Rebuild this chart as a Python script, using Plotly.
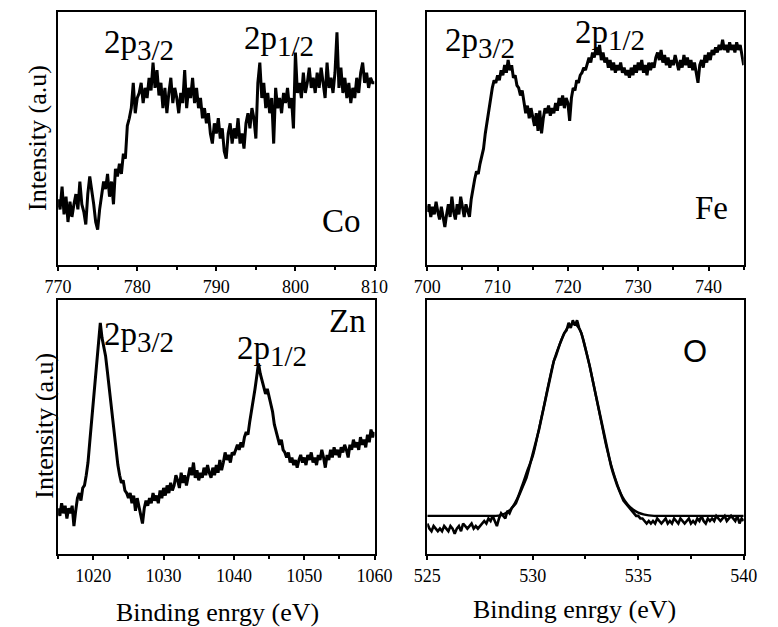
import numpy as np
import plotly.graph_objects as go

# ---------------- data (intensity in arbitrary units, 0-100 of frame) ----------------
co_start, co_step = 770.0, 0.25
co_int = [26, 22, 31, 20, 27, 17, 25, 19, 24, 28, 22, 33, 24, 21, 16, 28, 35, 30, 24, 17,
          14, 22, 27, 33, 30, 36, 27, 33, 24, 38, 35, 40, 36, 44, 42, 55, 58, 62, 72, 60,
          66, 68, 72, 64, 70, 66, 74, 69, 80, 70, 77, 67, 72, 62, 70, 60, 68, 74, 64, 70,
          66, 60, 68, 64, 77, 62, 70, 66, 74, 64, 70, 62, 66, 58, 62, 56, 60, 52, 48, 56,
          52, 58, 50, 54, 45, 42, 52, 56, 48, 54, 50, 58, 48, 52, 46, 56, 60, 54, 62, 58,
          50, 72, 80, 66, 72, 62, 68, 60, 66, 48, 70, 62, 66, 60, 68, 64, 70, 62, 66, 54,
          84, 68, 72, 66, 76, 68, 72, 78, 70, 74, 68, 76, 70, 78, 72, 66, 80, 70, 74, 68,
          76, 92, 70, 78, 68, 74, 66, 72, 64, 70, 66, 74, 68, 76, 80, 72, 76, 70, 74, 72, 72]

fe_start, fe_step = 700.0, 0.25
fe_int = [21, 24, 19, 23, 20, 25, 21, 18, 23, 19, 15, 20, 24, 19, 27, 21, 18, 24, 20, 27,
          22, 19, 24, 21, 19, 26, 31, 34, 37, 36, 40, 43, 46, 52, 57, 62, 66, 70, 73, 72,
          75, 73, 77, 75, 79, 76, 81, 77, 79, 74, 75, 71, 70, 67, 69, 64, 60, 63, 58, 62,
          59, 55, 60, 53, 61, 52, 58, 62, 60, 63, 59, 62, 60, 64, 61, 66, 63, 67, 62, 66,
          64, 57, 66, 70, 69, 73, 72, 75, 76, 78, 77, 80, 82, 80, 84, 82, 86, 83, 87, 81,
          84, 80, 82, 78, 81, 77, 80, 76, 79, 77, 80, 76, 78, 75, 77, 74, 78, 75, 79, 76,
          80, 77, 81, 76, 79, 75, 80, 77, 80, 78, 82, 84, 81, 85, 80, 83, 79, 82, 78, 81,
          79, 83, 80, 77, 81, 78, 83, 79, 82, 78, 81, 77, 80, 76, 72, 79, 81, 78, 83, 80,
          84, 81, 85, 83, 86, 84, 87, 85, 89, 85, 87, 84, 88, 85, 87, 84, 88, 85, 87, 83, 79]

zn_start, zn_step = 1015.0, 0.25
zn_int = [18, 15, 20, 16, 19, 14, 18, 16, 19, 11, 17, 22, 24, 21, 26, 27, 31, 36, 44, 52,
          60, 70, 78, 86, 91, 85, 82, 78, 72, 66, 59, 52, 46, 40, 35, 31, 28, 29, 25, 24,
          22, 24, 20, 23, 17, 22, 19, 16, 12, 18, 21, 19, 22, 20, 24, 21, 23, 20, 25, 22,
          26, 23, 27, 24, 28, 25, 27, 31, 29, 26, 32, 28, 31, 27, 30, 34, 31, 36, 30, 33,
          29, 32, 30, 34, 31, 35, 32, 30, 34, 31, 35, 32, 37, 33, 36, 40, 37, 39, 36, 40,
          39, 41, 43, 41, 44, 42, 46, 48, 47, 52, 56, 61, 65, 70, 75, 71, 68, 66, 63, 65,
          62, 58, 56, 51, 48, 46, 43, 45, 41, 40, 38, 40, 36, 38, 35, 37, 34, 37, 39, 36,
          38, 35, 39, 37, 40, 36, 38, 35, 39, 37, 41, 38, 34, 39, 37, 41, 38, 42, 39, 41,
          38, 42, 40, 43, 41, 38, 43, 41, 45, 42, 44, 41, 46, 43, 45, 42, 47, 44, 49, 46, 48]

o_start, o_step = 525.0, 0.1
o_int = [12, 10, 9, 11, 10, 9, 10, 9, 11, 10, 9, 11, 10, 8, 10, 11, 9, 12, 11, 10,
         11, 12, 10, 11, 10, 11, 12, 13, 12, 14, 13, 15, 13, 11, 14, 16, 15, 14, 17, 16,
         18, 19, 20, 22, 24, 26, 28, 30, 33, 36, 39, 42, 46, 49, 53, 57, 61, 65, 69, 73,
         76, 78, 81, 83, 85, 87, 88, 91, 89, 92, 90, 92, 89, 87, 84, 81, 78, 74, 70, 66,
         62, 58, 54, 50, 46, 42, 38, 35, 32, 29, 27, 25, 23, 21, 20, 19, 18, 17, 16, 15,
         15, 14, 14, 13, 12, 13, 12, 13, 12, 14, 13, 12, 13, 14, 12, 13, 12, 14, 13, 12,
         14, 13, 12, 13, 14, 12, 13, 12, 14, 13, 15, 13, 12, 14, 13, 14, 13, 15, 14, 13,
         14, 15, 13, 14, 15, 14, 13, 15, 12, 14, 13]

o_fit_start, o_fit_step = 525.0, 0.25
o_fit = [15, 15, 15, 15, 15, 15, 15, 15, 15, 15, 15, 15, 15, 15, 15.3, 16.2, 18, 21.5, 27, 33,
         38.5, 47.5, 57, 67, 76, 82, 87, 90, 90.5, 88, 81, 72, 62, 52, 42, 34, 27.5, 22.5, 19.5, 17.5,
         16.3, 15.6, 15.2, 15, 15, 15, 15, 15, 15, 15, 15, 15, 15, 15, 15, 15, 15, 15, 15, 15, 15]

def grid(start, step, vals):
    return start + step * np.arange(len(vals))

panels = [
    dict(rng=[770, 810], dt=10, mdt=5),
    dict(rng=[700, 745], dt=10, mdt=5),
    dict(rng=[1015, 1060], dt=10, mdt=5),
    dict(rng=[525, 540], dt=5, mdt=2.5),
]

fig = go.Figure()
line = dict(color="black", width=3)
fig.add_trace(go.Scatter(x=grid(co_start, co_step, co_int), y=co_int, mode="lines",
                         line=line, xaxis="x", yaxis="y"))
fig.add_trace(go.Scatter(x=grid(fe_start, fe_step, fe_int), y=fe_int, mode="lines",
                         line=line, xaxis="x2", yaxis="y2"))
fig.add_trace(go.Scatter(x=grid(zn_start, zn_step, zn_int), y=zn_int, mode="lines",
                         line=line, xaxis="x3", yaxis="y3"))
fig.add_trace(go.Scatter(x=grid(o_start, o_step, o_int), y=o_int, mode="lines",
                         line=dict(color="black", width=2.6), xaxis="x4", yaxis="y4"))
fig.add_trace(go.Scatter(x=grid(o_fit_start, o_fit_step, o_fit), y=o_fit, mode="lines",
                         line=dict(color="black", width=2.4, shape="spline"),
                         xaxis="x4", yaxis="y4"))

W, H = 778, 627
xdom = [[46 / W, 376 / W], [431 / W, 761 / W]]
ydom = [[1 - 265 / H, 1 - 12 / H], [1 - 554 / H, 1 - 300 / H]]

serif = "Liberation Serif"
layout = dict(
    width=W, height=H, margin=dict(l=0, r=0, t=0, b=0),
    paper_bgcolor="white", plot_bgcolor="white", showlegend=False,
)
for i, p in enumerate(panels):
    sfx = "" if i == 0 else str(i + 1)
    col = i % 2
    row = i // 2
    layout["xaxis" + sfx] = dict(
        domain=xdom[col], range=p["rng"], anchor="y" + sfx, dtick=p["dt"], tick0=0,
        showline=True, mirror=True, linecolor="black", linewidth=2, showgrid=False,
        zeroline=False, ticks="outside", ticklen=4, tickwidth=1.5, tickcolor="black",
        minor=dict(dtick=p["mdt"], tick0=0, ticks="outside", ticklen=3, tickwidth=1.5,
                   tickcolor="black"),
        tickfont=dict(family=serif, size=18, color="black"), fixedrange=True,
    )
    layout["yaxis" + sfx] = dict(
        domain=ydom[row], range=[0, 100], anchor="x" + sfx,
        showline=True, mirror=True, linecolor="black", linewidth=2, showgrid=False,
        zeroline=False, showticklabels=False, ticks="", fixedrange=True,
    )
fig.update_layout(**layout)

def lbl(a, b):
    return "2p<sub><span style='font-size:29px'>%s/%s</span></sub>" % (a, b)

ann_font = dict(family=serif, size=33, color="black")
elem_font = dict(family=serif, size=33, color="black")
annotations = [
    dict(text=lbl(3, 2), x=775.6, y=87, xref="x", yref="y", xanchor="left", yanchor="middle", font=ann_font),
    dict(text=lbl(1, 2), x=793.2, y=88.5, xref="x", yref="y", xanchor="left", yanchor="middle", font=ann_font),
    dict(text="Co", x=805.8, y=17.4, xref="x", yref="y", xanchor="center", yanchor="middle", font=elem_font),
    dict(text=lbl(3, 2), x=702.2, y=87.7, xref="x2", yref="y2", xanchor="left", yanchor="middle", font=ann_font),
    dict(text=lbl(1, 2), x=720.7, y=90.9, xref="x2", yref="y2", xanchor="left", yanchor="middle", font=ann_font),
    dict(text="Fe", x=740.4, y=22.5, xref="x2", yref="y2", xanchor="center", yanchor="middle", font=elem_font),
    dict(text=lbl(3, 2), x=1021.3, y=85.4, xref="x3", yref="y3", xanchor="left", yanchor="middle", font=ann_font),
    dict(text=lbl(1, 2), x=1040.1, y=79.9, xref="x3", yref="y3", xanchor="left", yanchor="middle", font=ann_font),
    dict(text="Zn", x=1056.2, y=91.7, xref="x3", yref="y3", xanchor="center", yanchor="middle", font=elem_font),
    dict(text="O", x=537.7, y=79.9, xref="x4", yref="y4", xanchor="center", yanchor="middle",
         font=dict(family="Liberation Sans", size=31, color="black")),
]
title_font = dict(family=serif, size=26, color="black")
annotations += [
    dict(text="Intensity (a.u)", x=24 / W, y=1 - 138 / H, xref="paper", yref="paper", textangle=-90,
         xanchor="center", yanchor="middle", font=title_font),
    dict(text="Intensity (a.u)", x=31 / W, y=1 - 426 / H, xref="paper", yref="paper", textangle=-90,
         xanchor="center", yanchor="middle", font=title_font),
    dict(text="Binding enrgy (eV)", x=212 / W, y=1 - 612 / H, xref="paper", yref="paper",
         xanchor="center", yanchor="middle", font=title_font),
    dict(text="Binding enrgy (eV)", x=585 / W, y=1 - 609 / H, xref="paper", yref="paper",
         xanchor="center", yanchor="middle", font=title_font),
]
for a in annotations:
    a.setdefault("showarrow", False)
fig.update_layout(annotations=annotations)

fig.write_html("out.html")
